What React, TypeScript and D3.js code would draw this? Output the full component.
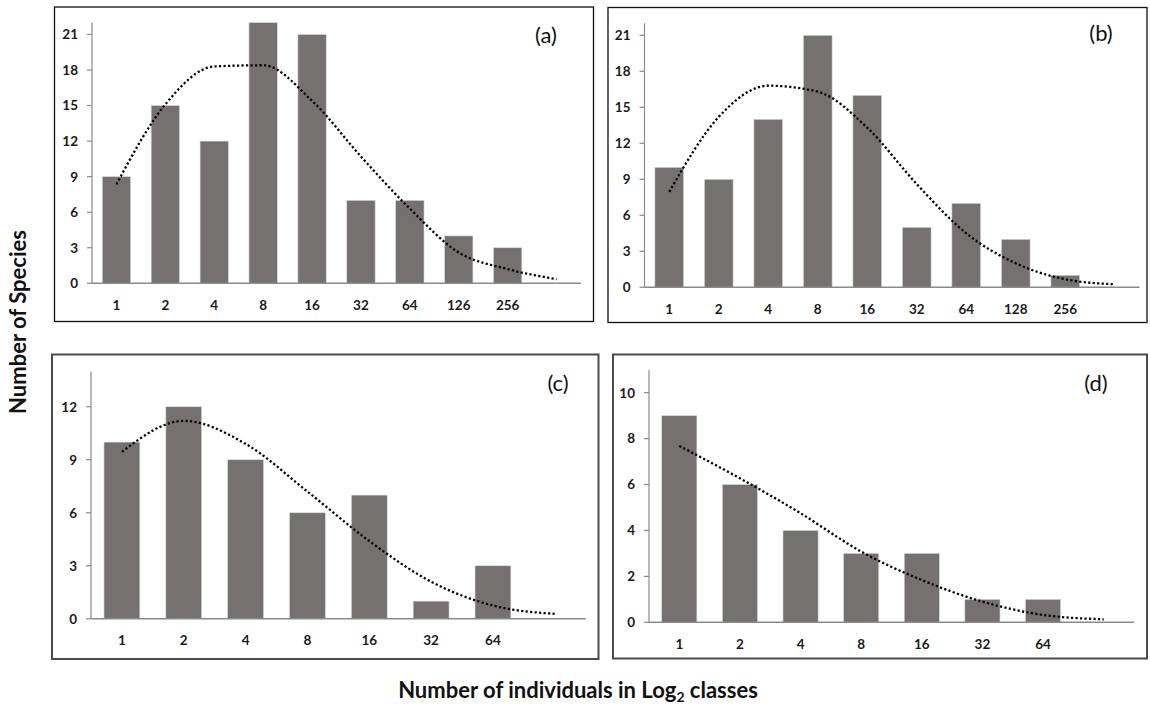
import React from "react";
import * as d3 from "d3";

// Log2 abundance classes (last slot is an unlabeled class the fitted curve runs into)
const classesA = ["1", "2", "4", "8", "16", "32", "64", "126", "256", ""];
const speciesA = [9, 15, 12, 22, 21, 7, 7, 4, 3];
const fitA = [8.35, 15.1, 18.3, 18.4, 15.4, 10.7, 6.3, 2.6, 1.2, 0.35];
const ticksA = [0, 3, 6, 9, 12, 15, 18, 21];

const classesB = ["1", "2", "4", "8", "16", "32", "64", "128", "256", ""];
const speciesB = [10, 9, 14, 21, 16, 5, 7, 4, 1];
const fitB = [7.95, 14.2, 16.8, 16.3, 13.3, 8.6, 4.5, 2.0, 0.67, 0.25];
const ticksB = [0, 3, 6, 9, 12, 15, 18, 21];

const classesC = ["1", "2", "4", "8", "16", "32", "64", ""];
const speciesC = [10, 12, 9, 6, 7, 1, 3];
const fitC = [9.45, 11.2, 9.9, 7.2, 4.4, 2.1, 0.75, 0.28];
const ticksC = [0, 3, 6, 9, 12];

const classesD = ["1", "2", "4", "8", "16", "32", "64", ""];
const speciesD = [9, 6, 4, 3, 3, 1, 1];
const fitD = [7.68, 6.27, 4.75, 3.08, 1.84, 0.9, 0.32, 0.13];
const ticksD = [0, 2, 4, 6, 8, 10];

const panelTags = ["(a)", "(b)", "(c)", "(d)"];

const FONT = "Lato, 'Open Sans', 'DejaVu Sans', sans-serif";
const BAR = "#767171";
const AXIS = "#8a8a8a";

type PanelSpec = {
  tag: string;
  classes: string[];
  species: number[];
  fit: number[];
  ticks: number[];
  yMax: number;
  box: [number, number, number, number];
  xRange: [number, number];
  yRange: [number, number];
  frame: { stroke: string; width: number };
  tagPos: [number, number];
};

const panels: PanelSpec[] = [
  {
    tag: panelTags[0], classes: classesA, species: speciesA, fit: fitA, ticks: ticksA, yMax: 22,
    box: [54.5, 7, 593.5, 321.5], xRange: [92, 581], yRange: [283.3, 22.6],
    frame: { stroke: "#111", width: 1.3 }, tagPos: [546, 43],
  },
  {
    tag: panelTags[1], classes: classesB, species: speciesB, fit: fitB, ticks: ticksB, yMax: 22,
    box: [608, 7.5, 1147, 322.5], xRange: [644.5, 1139.5], yRange: [287.3, 23.3],
    frame: { stroke: "#111", width: 1.3 }, tagPos: [1101, 41],
  },
  {
    tag: panelTags[2], classes: classesC, species: speciesC, fit: fitC, ticks: ticksC, yMax: 14,
    box: [52, 354.5, 598.5, 659], xRange: [91, 585.7], yRange: [618.8, 371.4],
    frame: { stroke: "#4a4a4a", width: 2 }, tagPos: [558, 391],
  },
  {
    tag: panelTags[3], classes: classesD, species: speciesD, fit: fitD, ticks: ticksD, yMax: 11,
    box: [613, 354.5, 1147, 658.5], xRange: [649, 1134], yRange: [622.3, 369.7],
    frame: { stroke: "#4a4a4a", width: 2 }, tagPos: [1096, 391],
  },
];

function Panel({ p }: { p: PanelSpec }) {
  const idx = d3.range(p.classes.length);
  const x = d3.scaleBand<number>().domain(idx).range(p.xRange).paddingInner(0.42).paddingOuter(0.21);
  const y = d3.scaleLinear().domain([0, p.yMax]).range(p.yRange);
  const cx = (i: number) => (x(i) ?? 0) + x.bandwidth() / 2;
  const fitLine = d3
    .line<number>()
    .x((_, i) => cx(i))
    .y((v) => y(v))
    .curve(d3.curveMonotoneX);
  const [bx0, by0, bx1, by1] = p.box;
  const axisX = p.xRange[0];
  const base = y(0);

  return (
    <g>
      <rect x={bx0} y={by0} width={bx1 - bx0} height={by1 - by0} fill="#fff" stroke={p.frame.stroke} strokeWidth={p.frame.width} />
      {p.species.map((v, i) => (
        <rect key={i} x={x(i)} y={y(v)} width={x.bandwidth()} height={base - y(v)} fill={BAR} stroke="#d9d9d9" strokeWidth={0.6} />
      ))}
      {/* value axis */}
      <line x1={axisX} x2={axisX} y1={y(p.yMax)} y2={base} stroke={AXIS} strokeWidth={1.2} />
      {p.ticks.map((t) => (
        <g key={t}>
          <line x1={axisX - 5} x2={axisX} y1={y(t)} y2={y(t)} stroke={AXIS} strokeWidth={1.2} />
          <text x={axisX - 14} y={y(t)} dy="0.36em" textAnchor="end" fontFamily={FONT} fontWeight={700} fontSize={13.5} fill="#1a1a1a">
            {t}
          </text>
        </g>
      ))}
      {/* category axis */}
      <line x1={axisX} x2={p.xRange[1]} y1={base} y2={base} stroke={AXIS} strokeWidth={1.5} />
      {p.classes.map((c, i) =>
        c ? (
          <text key={i} x={cx(i)} y={base + 21.5} dy="0.36em" textAnchor="middle" fontFamily={FONT} fontWeight={700} fontSize={13.5} fill="#1a1a1a">
            {c}
          </text>
        ) : null
      )}
      <path d={fitLine(p.fit) ?? ""} fill="none" stroke="#000" strokeWidth={2.3} strokeDasharray="2.2 2.3" />
      <text x={p.tagPos[0]} y={p.tagPos[1]} textAnchor="middle" fontFamily={FONT} fontSize={22} fill="#111">
        {p.tag}
      </text>
    </g>
  );
}

export default function App() {
  return (
    <svg width={1150} height={709} style={{ position: "absolute", left: 0, top: 0, background: "#fff" }}>
      {panels.map((p) => (
        <Panel key={p.tag} p={p} />
      ))}
      <text
        transform="translate(26,322) rotate(-90)"
        textAnchor="middle"
        fontFamily={FONT}
        fontWeight={700}
        fontSize={22}
        fill="#111"
      >
        Number of Species
      </text>
      <text x={578} y={698} textAnchor="middle" fontFamily={FONT} fontWeight={700} fontSize={22} fill="#111">
        Number of individuals in Log
        <tspan fontSize={14} dy={4}>2</tspan>
        <tspan dy={-4}> classes</tspan>
      </text>
    </svg>
  );
}
